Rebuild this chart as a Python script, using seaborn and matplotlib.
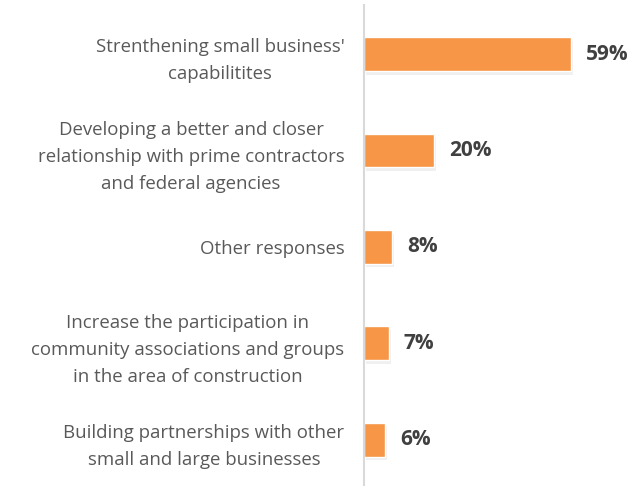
import matplotlib
matplotlib.use("Agg")
import matplotlib.pyplot as plt
import matplotlib.patheffects as pe
import seaborn as sns
import pandas as pd

categories = [
    "Strenthening small business'\ncapabilitites",
    "Developing a better and closer\nrelationship with prime contractors\nand federal agencies",
    "Other responses",
    "Increase the participation in\ncommunity associations and groups\nin the area of construction",
    "Building partnerships with other\nsmall and large businesses",
]
values = [59, 20, 8, 7, 6]
value_labels = ["59%", "20%", "8%", "7%", "6%"]

df = pd.DataFrame({"category": categories, "value": values})

sns.set_theme(style="white")
plt.rcParams["font.family"] = ["Open Sans", "DejaVu Sans"]

fig = plt.figure(figsize=(6.44, 4.86), dpi=100)
ax = fig.add_axes([364 / 644, 0.0, 1 - 364 / 644, 481 / 486])

sns.barplot(data=df, x="value", y="category", color="#F79646", width=0.35,
            saturation=1, ax=ax, orient="h")

# soft drop shadow under each bar
for bar in ax.patches:
    bar.set_path_effects([pe.SimplePatchShadow(offset=(1.5, -2.5), shadow_rgbFace="#d0d0d0", alpha=0.3),
                          pe.Normal()])

for i, (v, lab) in enumerate(zip(values, value_labels)):
    ax.text(v + 4.3, i, lab, va="center", ha="left", fontsize=15,
            fontweight="bold", color="#404040")

ax.set_xlim(0, 80)
ax.set_ylim(4.48, -0.51)
ax.set_xlabel("")
ax.set_ylabel("")
ax.set_xticks([])
ax.tick_params(axis="y", length=0, pad=14, labelsize=13.4, labelcolor="#595959")
for lab in ax.get_yticklabels():
    lab.set_horizontalalignment("right")
    lab.set_multialignment("center")
    lab.set_linespacing(1.66)

for s in ["top", "right", "bottom"]:
    ax.spines[s].set_visible(False)
ax.spines["left"].set_color("#d9d9d9")
ax.spines["left"].set_linewidth(1.5)

fig.savefig("out.png", dpi=100)
